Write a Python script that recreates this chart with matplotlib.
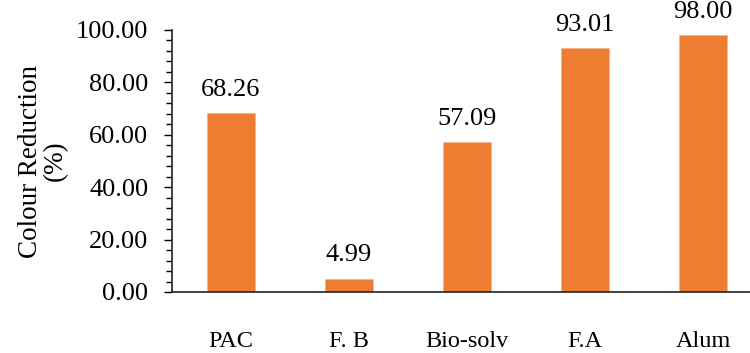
import matplotlib.pyplot as plt
from matplotlib.ticker import MultipleLocator

# colour reduction by treatment
treatments = ["PAC", "F. B", "Bio-solv", "F.A", "Alum"]
reduction = [68.26, 4.99, 57.09, 93.01, 98.00]

plt.rcParams['font.family'] = ['Liberation Serif', 'DejaVu Serif']

fig = plt.figure(figsize=(7.5, 3.53), dpi=100)
ax = fig.add_axes([172/750, 61/353, 590/750, 262/353])

x = range(len(treatments))
bars = ax.bar(x, reduction, width=0.4, color="#ED7D31", edgecolor="#F6B68A", linewidth=0.5)

for b, v in zip(bars, reduction):
    ax.annotate(f"{v:.2f}", (b.get_x() + b.get_width()/2, v), xytext=(0, 9),
                textcoords="offset points", ha="center", va="bottom", fontsize=19)

ax.set_xlim(-0.5, 4.5)
ax.set_ylim(0, 100)
ax.yaxis.set_major_locator(MultipleLocator(20))
ax.yaxis.set_minor_locator(MultipleLocator(4))
ax.yaxis.set_major_formatter(lambda v, p: f"{v:.2f}")
ax.set_xticks(list(x))
ax.set_xticklabels(treatments, fontsize=17.5)
ax.tick_params(axis='x', length=0, pad=28)
ax.tick_params(axis='y', which='major', length=6, width=1, labelsize=19, pad=11)
ax.tick_params(axis='y', which='minor', length=4, width=1)

for s in ['top', 'right']:
    ax.spines[s].set_visible(False)
for s in ['left', 'bottom']:
    ax.spines[s].set_linewidth(1.2)
    ax.spines[s].set_color("#222222")

ax.set_ylabel("Colour Reduction\n(%)", fontsize=19.5, linespacing=1.0, labelpad=6)

fig.savefig("out.png", dpi=100)
